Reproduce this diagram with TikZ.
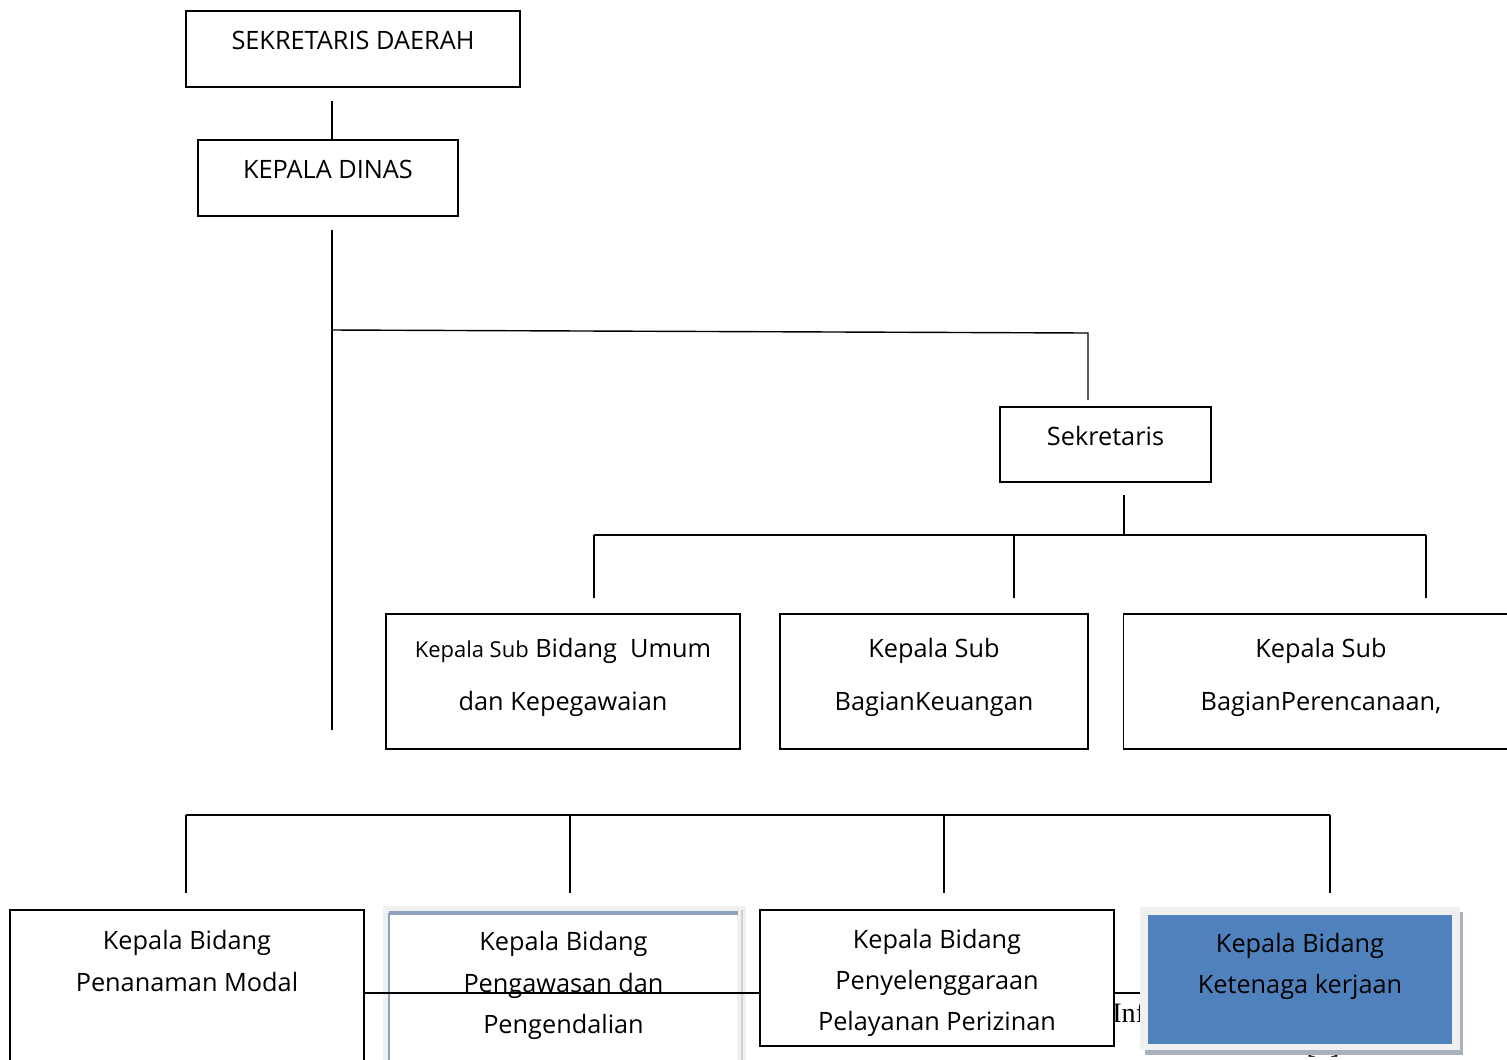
\documentclass[tikz,border=0pt]{standalone}
\usepackage{fontspec}
\setmainfont{Open Sans}
\newfontfamily\notefont{Liberation Serif}
\usepackage{xcolor}
\usetikzlibrary{positioning}

\definecolor{frameGray}{HTML}{F0F0F0}
\definecolor{blueGray}{HTML}{8EA2BC}
\definecolor{shadowGray}{HTML}{A9B1BE}
\definecolor{kbBlue}{HTML}{4F81BD}

\begin{document}
\begin{tikzpicture}[
    x=0.02cm, y=-0.02cm,
    box/.style={rectangle, draw, line width=1pt, fill=white, inner sep=0pt, align=center, anchor=north, font=\fontsize{14.4}{17}\selectfont},
    subbox/.style={box, font=\fontsize{14.4}{30.6}\selectfont, text height=1.94cm, text depth=0.76cm},
    bidang/.style={box, font=\fontsize{14.4}{24}\selectfont},
    link/.style={line width=0.8pt},
]
    \clip (0,0) rectangle (1507,1059);

    % Top level
    \node[box, minimum width=6.68cm, text height=0.78cm, text depth=0.74cm] (sekda) at (353,10) {SEKRETARIS DAERAH};
    \node[box, minimum width=5.2cm, text height=0.78cm, text depth=0.74cm] (kadis) at (328,139) {KEPALA DINAS};
    \coordinate (t1) at (332,101);
    \draw[link] (t1) -- (t1 |- kadis.north);

    % Spine and branch to Sekretaris
    \coordinate (spineTop) at (332,230);
    \coordinate (spineEnd) at (332,730);
    \coordinate (brEnd) at (1088,333);
    \draw[link] (spineTop) -- (spineEnd);
    \draw[link] (332,330) -- (brEnd) -- ++(0,67);

    \node[box, minimum width=4.22cm, text height=0.78cm, text depth=0.72cm] (sekr) at (1105.5,406) {Sekretaris};

    % Sub bagian
    \coordinate (s0) at (1124,495);
    \coordinate (busL) at (594,535);
    \coordinate (busR) at (1426,535);
    \draw[link] (s0) -- (s0 |- busL);
    \draw[link] (busL) -- (busR);
    \foreach \x in {594,1014,1426}
        \draw[link] (\x,535) -- ++(0,63);

    \node[subbox, minimum width=7.08cm] (sub1) at (563,613) {{\fontsize{12.5}{15}\selectfont Kepala Sub} Bidang\ \ Umum\\ dan Kepegawaian};
    \node[subbox, minimum width=6.16cm] (sub2) at (934,613) {Kepala Sub\\ BagianKeuangan};
    \node[subbox, minimum width=7.9cm] (sub3) at (1321,613) {Kepala Sub\\ BagianPerencanaan,};

    % Bidang
    \coordinate (bidL) at (186,815);
    \coordinate (bidR) at (1330,815);
    \draw[link] (bidL) -- (bidR);
    \foreach \x in {186,570,944,1330}
        \draw[link] (\x,815) -- ++(0,78);

    \node[bidang, minimum width=7.08cm, text height=1.64cm, text depth=1.8cm] (kb1) at (187,909) {Kepala Bidang\\ Penanaman Modal};

    \fill[frameGray] (383,906) rectangle (746,1070);
    \draw[gray!35, line width=1.2pt] (742,910) -- (742,1070);
    \node[bidang, draw=none, font=\fontsize{14.4}{23.8}\selectfont, minimum width=6.94cm, text height=2.4cm, text depth=0.64cm] (kb2) at (563.5,913) {Kepala Bidang\\ Pengawasan dan\\ Pengendalian};
    \draw[blueGray, line width=2pt] (kb2.north west) -- (kb2.north east);
    \draw[blueGray, line width=1pt] (kb2.north west) -- (kb2.south west);

    \draw[link] (364,993) -- (1140,993);

    \node[bidang, font=\fontsize{14.4}{23.5}\selectfont, minimum width=7.08cm, text height=2.42cm, text depth=0.3cm] (kb3) at (937,909) {Kepala Bidang\\ Penyelenggaraan\\ Pelayanan Perizinan};

    \node[font=\notefont\fontsize{16}{18}\selectfont, anchor=base west, inner sep=0pt] (inf) at (1112,1022) {Inf};
    \node[font=\notefont\fontsize{16}{18}\selectfont, anchor=base, inner sep=0pt] (ref) at (1323,1053) {[1]};

    \fill[shadowGray] (1145,912) rectangle (1463,1055);
    \fill[frameGray] (1140,907) rectangle (1460,1050);
    \node[bidang, draw=none, fill=kbBlue, font=\fontsize{14.4}{23.8}\selectfont, minimum width=6.08cm, text height=1.58cm, text depth=1.0cm] (kb4) at (1300,914) {Kepala Bidang\\ Ketenaga kerjaan};
\end{tikzpicture}
\end{document}
